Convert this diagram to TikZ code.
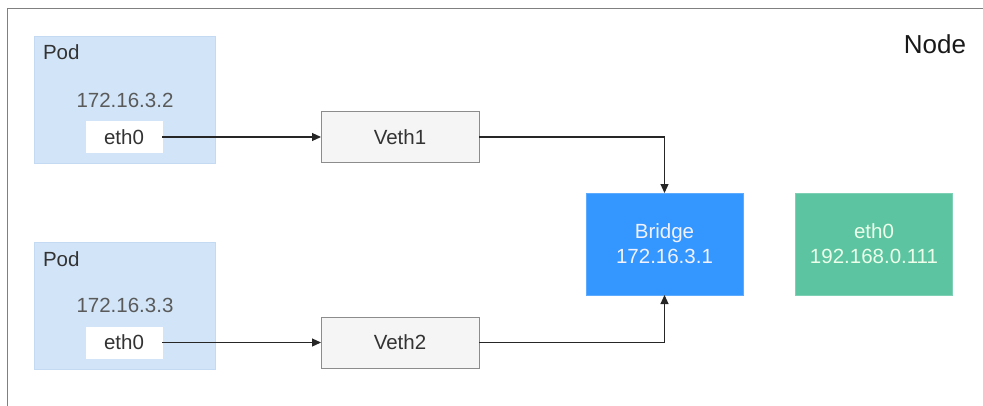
\documentclass[tikz,border=0pt]{standalone}
\usepackage{fontspec}
\setmainfont{Liberation Sans}
\usetikzlibrary{arrows.meta}
\definecolor{podfill}{HTML}{D2E5F8}
\definecolor{podline}{HTML}{C3DAF2}
\definecolor{vethfill}{HTML}{F5F5F5}
\definecolor{vethline}{HTML}{8C8C8C}
\definecolor{bridgefill}{HTML}{3496FF}
\definecolor{greenfill}{HTML}{5CC4A0}
\definecolor{txt}{HTML}{333333}
\definecolor{iptxt}{HTML}{5A5A5A}
\definecolor{frame}{HTML}{808080}
\tikzset{
  every node/.style={font=\fontsize{20.5}{25}\selectfont, inner sep=0pt, outer sep=0pt},
  podbox/.style={draw=podline, fill=podfill, line width=0.8pt, minimum width=181pt, minimum height=127pt, anchor=north west},
  ethbox/.style={fill=white, draw=white, minimum width=76pt, minimum height=31pt, text=txt},
  vethbox/.style={draw=vethline, fill=vethfill, line width=1pt, minimum width=158pt, minimum height=51pt, text=txt},
  bigbox/.style={minimum width=157pt, minimum height=102pt, align=center, line width=1pt},
  conn/.style={draw=black!85, line width=1.1pt, -{Triangle[length=9pt,width=8pt]}},
}
\begin{document}
\begin{tikzpicture}[x=1pt,y=-1pt]
\useasboundingbox (0,0) rectangle (983,405);
% outer frame
\coordinate (ftl) at (7.5,8.5);
\coordinate (ftr) at (990,8.5);
\coordinate (fbl) at (7.5,410);
\draw[frame, line width=1.5pt] (fbl) -- (ftl) -- (ftr);
\node[text=black!90, font=\fontsize{26}{30}\selectfont] (nodelbl) at (935,44) {Node};

% pods
\node[podbox] (pod1) at (34,36) {};
\node[podbox] (pod2) at (34,242) {};
\node[anchor=west, text=txt] (pod1lbl) at (43,52) {Pod};
\node[anchor=west, text=txt] (pod2lbl) at (43,259) {Pod};
\node[text=iptxt] (ip1) at (125,100) {172.16.3.2};
\node[text=iptxt] (ip2) at (125,305) {172.16.3.3};
\node[ethbox] (eth1) at (124,137) {eth0};
\node[ethbox] (eth2) at (124,342.5) {eth0};

% veths
\node[vethbox] (veth1) at (400,137) {Veth1};
\node[vethbox] (veth2) at (400,342.5) {Veth2};

% bridge and host eth0
\node[bigbox, fill=bridgefill, draw=bridgefill!80!white, text=white!95!blue] (bridge) at (664.5,244) {Bridge\\172.16.3.1};
\node[bigbox, fill=greenfill, draw=greenfill!80!white, text=white!92!green] (heth) at (874,244) {eth0\\192.168.0.111};

% connectors
\draw[conn] (eth1.east) -- (veth1.west);
\draw[conn] (eth2.east) -- (veth2.west);
\draw[conn] (veth1.east) -| (bridge.north);
\draw[conn] (veth2.east) -| (bridge.south);
\end{tikzpicture}
\end{document}
